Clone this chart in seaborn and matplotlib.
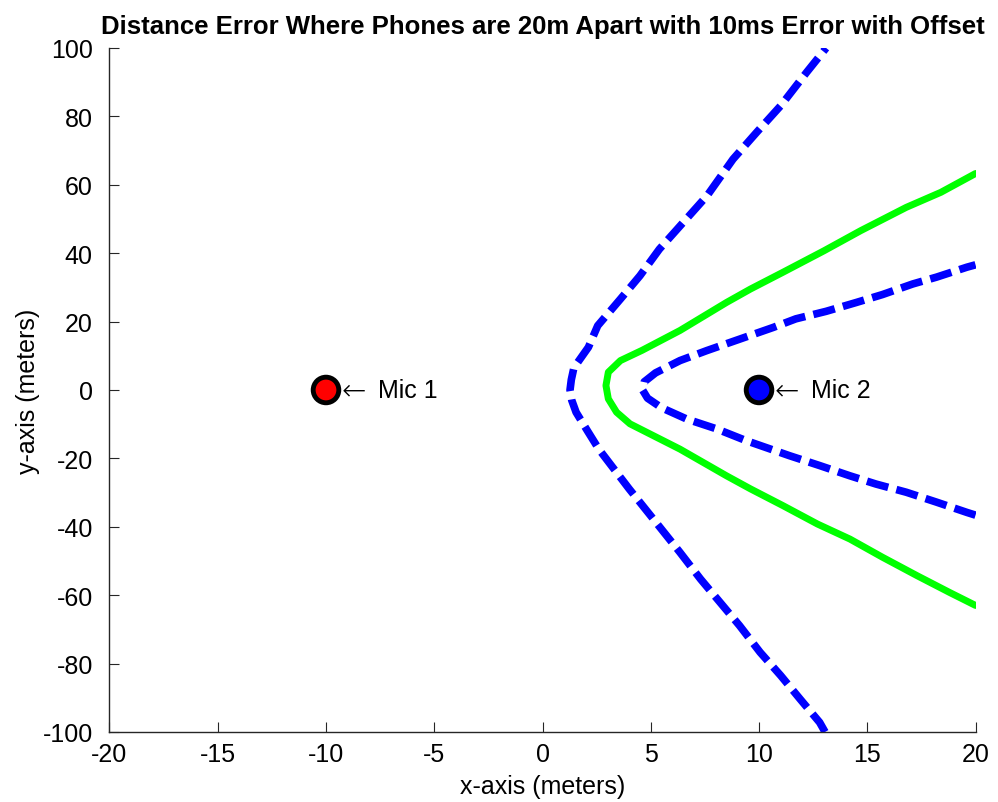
import matplotlib
matplotlib.use("Agg")
import matplotlib.pyplot as plt
import seaborn as sns
import pandas as pd

# Outer error bound (blue dashed), traced bottom to top
outer_x = [13.05, 12.8, 11.9, 11.0, 10.05, 9.1, 8.2, 7.3, 6.35, 5.0, 4.0, 3.3, 2.6, 2.07,
           1.55, 1.35, 1.27, 1.33, 1.45, 2.12, 2.55, 3.6, 4.5, 5.4, 6.5, 7.6, 8.8, 9.9,
           11.0, 12.2, 13.1]
outer_y = [-100, -97.2, -90.4, -83.5, -76.7, -68.9, -62.1, -55.3, -47.5, -36.8, -28.9, -23.1,
           -17.3, -11.9, -6.5, -3.0, 0.0, 3.0, 6.5, 12.5, 18.8, 26.6, 33.4, 41.2, 49.0, 56.8,
           67.5, 75.4, 83.1, 92.9, 100]

# Measured hyperbola (green solid)
mid_x = [20.0, 18.8, 17.3, 15.7, 14.2, 12.7, 11.1, 9.6, 8.5, 6.35, 4.04, 3.42, 3.04, 2.93,
         3.04, 3.6, 4.6, 6.35, 8.5, 9.6, 11.1, 13.0, 14.7, 16.8, 18.4, 20.0]
mid_y = [-63.0, -59.2, -54.3, -48.9, -43.6, -39.2, -33.8, -28.9, -25.1, -17.3, -9.9, -6.5,
         -2.6, 1.3, 5.2, 8.6, 11.6, 17.4, 25.6, 29.5, 34.4, 40.7, 46.6, 53.4, 57.8, 63.3]

# Inner error bound (blue dashed)
inner_x = [20.0, 19.6, 18.2, 16.8, 15.4, 14.2, 12.8, 11.4, 9.4, 8.05, 6.66, 5.5, 4.85, 4.62,
           4.7, 5.22, 6.35, 7.58, 9.12, 10.66, 11.7, 13.1, 14.5, 15.7, 17.1, 18.2, 19.6, 20.0]
inner_y = [-36.6, -35.8, -32.8, -29.9, -27.5, -25.1, -22.1, -19.2, -14.8, -11.4, -8.5, -5.2,
           -2.4, 0.0, 2.4, 5.0, 8.6, 11.5, 14.9, 18.3, 20.8, 23.0, 25.6, 27.9, 31.0, 33.0,
           35.9, 36.6]

# Microphone positions
mic_names = ["Mic 1", "Mic 2"]
mic_x = [-10, 10]
mic_y = [0, 0]
mic_colors = ["#ff0000", "#0000ff"]

x_ticks = [-20, -15, -10, -5, 0, 5, 10, 15, 20]
y_ticks = [-100, -80, -60, -40, -20, 0, 20, 40, 60, 80, 100]

sns.set_theme(style="white")
plt.rcParams["font.family"] = ["Liberation Sans", "DejaVu Sans"]
plt.rcParams["axes.unicode_minus"] = False

fig = plt.figure(figsize=(9.98, 8.03), dpi=100)
ax = fig.add_axes([0.1097, 0.0872, 0.8678, 0.8518])

dash = (0, (2.9, 1.1))
sns.lineplot(x=outer_x, y=outer_y, sort=False, estimator=None, ax=ax,
             color="#0000ff", linewidth=5.5, linestyle=dash)
sns.lineplot(x=mid_x, y=mid_y, sort=False, estimator=None, ax=ax,
             color="#00ff00", linewidth=5.0)
sns.lineplot(x=inner_x, y=inner_y, sort=False, estimator=None, ax=ax,
             color="#0000ff", linewidth=5.5, linestyle=dash)

mics = pd.DataFrame({"x": mic_x, "y": mic_y, "name": mic_names})
sns.scatterplot(data=mics, x="x", y="y", hue="name", palette=mic_colors, s=340,
                edgecolor="black", linewidth=3.5, legend=False, ax=ax, zorder=5)
for name, mx, my in zip(mic_names, mic_x, mic_y):
    ax.text(mx + 0.72, my, "\u2190", ha="left", va="center", fontsize=21,
            family=["DejaVu Sans"], fontweight="light", color="black")
    ax.text(mx + 2.4, my, name, ha="left", va="center", fontsize=18, color="black")

ax.set_xlim(-20, 20)
ax.set_ylim(-100, 100)
ax.set_xticks(x_ticks)
ax.set_yticks(y_ticks)
ax.tick_params(direction="in", length=7, width=0.8, colors="#262626",
               labelsize=18, labelcolor="black", pad=7, left=True, bottom=True)
ax.tick_params(axis="y", pad=12)
for side in ["top", "right"]:
    ax.spines[side].set_visible(False)
for side in ["left", "bottom"]:
    ax.spines[side].set_color("#262626")
    ax.spines[side].set_linewidth(1.0)

ax.set_xlabel("x-axis (meters)", fontsize=18, color="black", labelpad=6)
ax.set_ylabel("y-axis (meters)", fontsize=18, color="black", labelpad=2)
ax.set_title("Distance Error Where Phones are 20m Apart with 10ms Error with Offset",
             fontsize=18.5, fontweight="bold", color="black", pad=11)

fig.savefig("out.png", dpi=100)
